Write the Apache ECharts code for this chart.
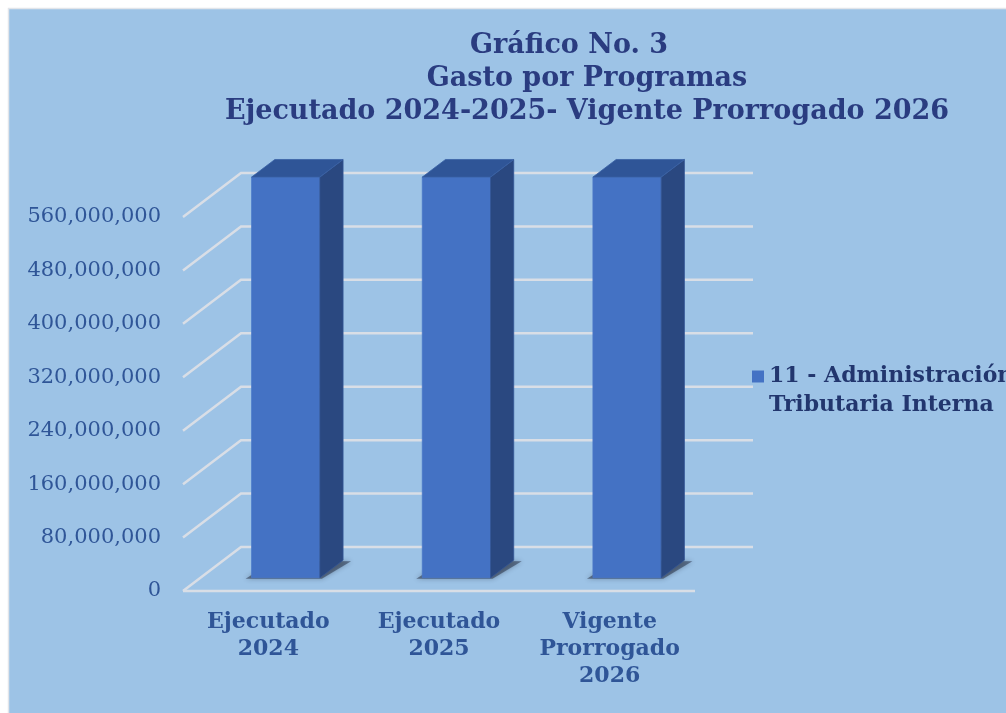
<!DOCTYPE html>
<html>
<head>
<meta charset="utf-8">
<script src="https://cdn.jsdelivr.net/npm/echarts@6/dist/echarts.min.js"></script>
<style>
html,body{margin:0;padding:0;background:#fff;}
#chart{width:1006px;height:713px;}
</style>
</head>
<body>
<div id="chart"></div>
<script>
// ---- data ----
const titleLines = ['Gráfico No. 3', 'Gasto por Programas', 'Ejecutado 2024-2025- Vigente Prorrogado 2026'];
const categories = ['Ejecutado\n2024', 'Ejecutado\n2025', 'Vigente\nProrrogado\n2026'];
const seriesName = '11 - Administración Tributaria Interna';
const values = [600000000, 600000000, 600000000];
const yTicks = [0, 80000000, 160000000, 240000000, 320000000, 400000000, 480000000, 560000000];

// ---- style constants ----
const DX = 58, DY = -44;            // depth vector of the 3D box
const F0 = 0.3, F1 = 0.7;           // bar depth position (fractions)
const BAR_W = 0.4;                  // bar width as fraction of band
const FONT = 'DejaVu Serif';

const chart = echarts.init(document.getElementById('chart'));

function gridRender(params, api) {
  const cs = params.coordSys;
  const v = api.value(1);
  const y = api.coord([0, v])[1];
  const x0 = cs.x, x1 = cs.x + cs.width;
  const style = { stroke: '#D9DEE6', lineWidth: 2.5, fill: null };
  const children = [{
    type: 'polyline',
    shape: { points: [[x0, y], [x0 + DX, y + DY], [x1 + DX, y + DY]] },
    style: style
  }];
  if (v === 0) {
    children.push({ type: 'line', shape: { x1: x0, y1: y, x2: x1, y2: y }, style: style });
  }
  return { type: 'group', children: children };
}

function barRender(params, api) {
  const idx = api.value(0);
  const v = api.value(1);
  const p0 = api.coord([idx, 0]);
  const p1 = api.coord([idx, v]);
  const band = api.size([1, 0])[0];
  const w = band * BAR_W;
  const ox = F0 * DX, oy = F0 * DY;
  const ddx = (F1 - F0) * DX, ddy = (F1 - F0) * DY;
  const xl = p0[0] - w / 2 + ox, xr = p0[0] + w / 2 + ox;
  const yb = p0[1] + oy, yt = p1[1] + oy;
  return {
    type: 'group',
    children: [
      { type: 'polygon',
        shape: { points: [[xl - 6, yb + 1], [xr + 2, yb + 1], [xr + ddx + 8, yb + ddy + 1], [xl + ddx, yb + ddy]] },
        style: { fill: 'rgba(40,50,70,0.55)', shadowBlur: 5, shadowColor: 'rgba(20,30,50,0.6)' } },
      { type: 'rect', shape: { x: xl, y: yt, width: xr - xl, height: yb - yt },
        style: { fill: '#4472C4', stroke: '#4A78C8', lineWidth: 0.8 } },
      { type: 'polygon',
        shape: { points: [[xr, yt], [xr + ddx, yt + ddy], [xr + ddx, yb + ddy], [xr, yb]] },
        style: { fill: '#2A4880', stroke: '#345694', lineWidth: 0.8 } },
      { type: 'polygon',
        shape: { points: [[xl, yt], [xl + ddx, yt + ddy], [xr + ddx, yt + ddy], [xr, yt]] },
        style: { fill: '#2F5597', stroke: '#3A62A6', lineWidth: 0.8 } }
    ]
  };
}

const option = {
  backgroundColor: '#ffffff',
  animation: false,
  graphic: [{
    type: 'rect', z: -10, silent: true,
    shape: { x: 8.5, y: 8.5, width: 1010, height: 720 },
    style: { fill: '#9DC3E6', stroke: '#E2E5EA', lineWidth: 1.5 }
  }],
  title: {
    text: '{l1|' + titleLines[0] + '}\n' + titleLines[1] + '\n' + titleLines[2],
    left: 582, top: 24, textAlign: 'center',
    textStyle: {
      fontFamily: FONT, fontWeight: 'bold', fontSize: 27, lineHeight: 33, color: '#2A3C80',
      rich: { l1: { fontFamily: FONT, fontWeight: 'bold', fontSize: 27, lineHeight: 33, color: '#2A3C80', padding: [0, 36, 0, 0] } }
    }
  },
  legend: {
    left: 752, top: 333, padding: 0,
    itemWidth: 12, itemHeight: 12,
    icon: 'rect',
    data: [{ name: seriesName, itemStyle: { color: '#4472C4' } }],
    formatter: function (n) { return '\n' + n.replace(' Tributaria', '\nTributaria'); },
    textStyle: { fontFamily: FONT, fontWeight: 'bold', fontSize: 22, lineHeight: 29, color: '#22366E' }
  },
  grid: { left: 183, right: 311, top: 217, bottom: 122, containLabel: false },
  xAxis: {
    type: 'category', data: categories,
    axisLine: { show: false }, axisTick: { show: false }, splitLine: { show: false },
    axisLabel: { fontFamily: FONT, fontWeight: 'bold', fontSize: 22, lineHeight: 27, color: '#2F5597', margin: 18, interval: 0 }
  },
  yAxis: {
    type: 'value', min: 0, max: 560000000, interval: 80000000,
    axisLine: { show: false }, axisTick: { show: false }, splitLine: { show: false },
    axisLabel: {
      fontFamily: FONT, fontSize: 21, color: '#2F5597', margin: 22,
      formatter: function (v) { return v.toLocaleString('en-US'); }
    }
  },
  series: [
    { type: 'custom', name: 'grid', renderItem: gridRender, data: yTicks.map(function (t) { return [0, t]; }),
      encode: { x: 0, y: 1 }, silent: true, z: 1, tooltip: { show: false } },
    { type: 'custom', name: seriesName, renderItem: barRender, data: values.map(function (v, i) { return [i, v]; }),
      encode: { x: 0, y: 1 }, clip: false, z: 3, itemStyle: { color: '#4472C4' } }
  ]
};
chart.setOption(option);
</script>
</body>
</html>
